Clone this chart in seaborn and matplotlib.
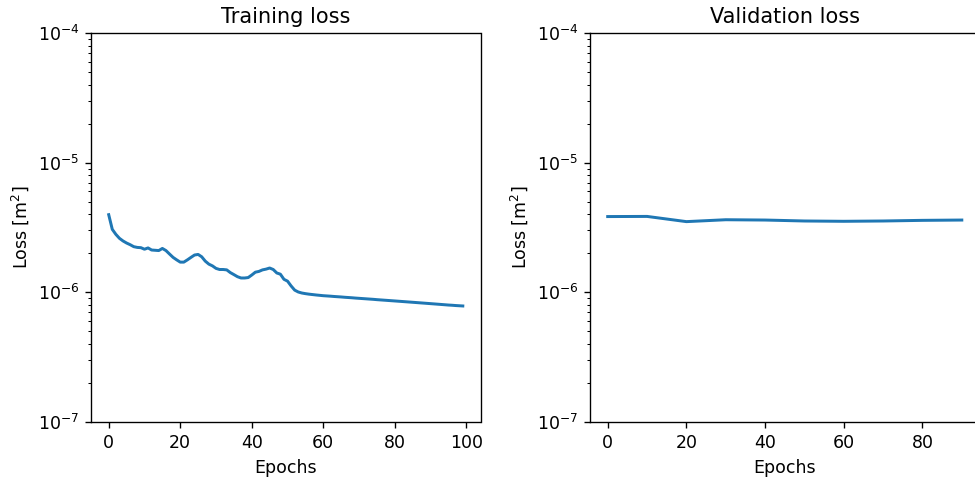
import matplotlib
matplotlib.use("Agg")
import matplotlib.pyplot as plt
import seaborn as sns
import pandas as pd
import numpy as np

# ---- data ----
train_epochs = list(range(100))
train_loss = [
    3.97e-6, 3.06e-6, 2.80e-6, 2.61e-6, 2.49e-6, 2.40e-6, 2.33e-6, 2.25e-6, 2.22e-6, 2.21e-6,
    2.15e-6, 2.20e-6, 2.12e-6, 2.11e-6, 2.10e-6, 2.18e-6, 2.10e-6, 1.975e-6, 1.86e-6, 1.78e-6,
    1.71e-6, 1.71e-6, 1.78e-6, 1.86e-6, 1.94e-6, 1.96e-6, 1.88e-6, 1.74e-6, 1.65e-6, 1.60e-6,
    1.53e-6, 1.50e-6, 1.50e-6, 1.49e-6, 1.42e-6, 1.37e-6, 1.32e-6, 1.29e-6, 1.29e-6, 1.30e-6,
    1.36e-6, 1.43e-6, 1.45e-6, 1.49e-6, 1.51e-6, 1.54e-6, 1.50e-6, 1.41e-6, 1.38e-6, 1.26e-6,
    1.22e-6, 1.12e-6, 1.04e-6, 1.006e-6, 0.988e-6, 0.977e-6, 0.968e-6, 0.961e-6, 0.954e-6, 0.948e-6,
    0.942e-6, 0.938e-6, 0.934e-6, 0.929e-6, 0.925e-6, 0.921e-6, 0.916e-6, 0.912e-6, 0.908e-6, 0.903e-6,
    0.899e-6, 0.895e-6, 0.891e-6, 0.887e-6, 0.883e-6, 0.878e-6, 0.874e-6, 0.870e-6, 0.866e-6, 0.862e-6,
    0.858e-6, 0.854e-6, 0.850e-6, 0.846e-6, 0.842e-6, 0.838e-6, 0.834e-6, 0.830e-6, 0.826e-6, 0.822e-6,
    0.818e-6, 0.814e-6, 0.810e-6, 0.806e-6, 0.802e-6, 0.798e-6, 0.795e-6, 0.791e-6, 0.788e-6, 0.785e-6,
]
val_epochs = [0, 10, 20, 30, 40, 50, 60, 70, 80, 90]
val_loss = [3.84e-6, 3.85e-6, 3.51e-6, 3.63e-6, 3.61e-6, 3.55e-6, 3.53e-6, 3.55e-6, 3.59e-6, 3.61e-6]

titles = ["Training loss", "Validation loss"]
xlabel = "Epochs"
ylabel = "Loss [m$^2$]"
ylim = (1e-7, 1e-4)

train_df = pd.DataFrame({"epoch": train_epochs, "loss": train_loss})
val_df = pd.DataFrame({"epoch": val_epochs, "loss": val_loss})

DPI = 122.5
fig = plt.figure(figsize=(975 / DPI, 482 / DPI), dpi=DPI)
W, H = 975, 482
ax1 = fig.add_axes([91 / W, (H - 422) / H, 389.5 / W, 389 / H])
ax2 = fig.add_axes([590 / W, (H - 422) / H, 389.5 / W, 389 / H])

color = "#1f77b4"
for ax, df, title in [(ax1, train_df, titles[0]), (ax2, val_df, titles[1])]:
    sns.lineplot(data=df, x="epoch", y="loss", ax=ax, color=color, linewidth=1.75)
    ax.set_yscale("log")
    ax.set_ylim(*ylim)
    ax.set_title(title, fontsize=12.3)
    ax.set_xlabel(xlabel, fontsize=10.2)
    ax.set_ylabel(ylabel, fontsize=10.2)
    ax.tick_params(labelsize=10.2)

fig.savefig("out.png", dpi=DPI)
